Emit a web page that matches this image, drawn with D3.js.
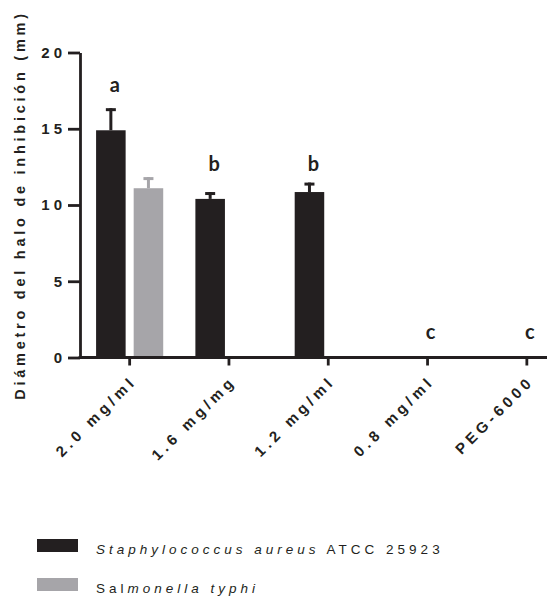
<!DOCTYPE html>
<html>
<head>
<meta charset="utf-8">
<script src="https://cdn.jsdelivr.net/npm/d3@7"></script>
<style>
  html, body { margin: 0; padding: 0; background: #fff; }
  svg { display: block; }
</style>
</head>
<body>
<svg id="chart" width="547" height="597"></svg>
<script>
// ---- data ----
const categories = ["2.0 mg/ml", "1.6 mg/mg", "1.2 mg/ml", "0.8 mg/ml", "PEG-6000"];
const seriesNames = ["Staphylococcus aureus ATCC 25923", "Salmonella typhi"];
const aureusMean = [14.9, 10.4, 10.85, 0, 0];
const aureusSD   = [1.45, 0.45, 0.62, 0, 0];
const typhiMean  = [11.1, 0, 0, 0, 0];
const typhiSD    = [0.73, 0, 0, 0, 0];
const letters    = ["a", "b", "b", "c", "c"];
const letterY    = [17.4, 12.25, 12.25, 1.23, 1.23];
const yTicks     = [0, 5, 10, 15, 20];
const yTitle     = "Diámetro del halo de inhibición (mm)";

// ---- layout ----
const svg = d3.select("#chart");
const ink = "#231f20";
const grey = "#a6a5a9";
const colors = [ink, grey];
const FONT = "'Liberation Sans', Arial, sans-serif";

const x0 = 80, yBottom = 357.5, yTop = 52.5;
const x = d3.scaleBand().domain(categories).range([x0, x0 + 99.3 * categories.length]).padding(0);
const xs = d3.scaleBand().domain([0, 1]).range([0, x.bandwidth()]).paddingInner(0.214).paddingOuter(0.428);
const y = d3.scaleLinear().domain([0, 20]).range([yBottom, yTop]);

const series = [
  { mean: aureusMean, sd: aureusSD },
  { mean: typhiMean, sd: typhiSD }
];

// bars + error bars
series.forEach((s, si) => {
  const g = svg.append("g");
  categories.forEach((c, i) => {
    const v = s.mean[i];
    if (v <= 0) return;
    const bx = x(c) + xs(si);
    const bw = xs.bandwidth();
    const cx = bx + bw / 2;
    g.append("rect")
      .attr("x", bx).attr("y", y(v))
      .attr("width", bw).attr("height", y(0) - y(v))
      .attr("fill", colors[si]);
    const top = y(v + s.sd[i]);
    g.append("line")
      .attr("x1", cx).attr("x2", cx)
      .attr("y1", y(v)).attr("y2", top)
      .attr("stroke", colors[si]).attr("stroke-width", 3);
    g.append("line")
      .attr("x1", cx - 5).attr("x2", cx + 5)
      .attr("y1", top + 1.5).attr("y2", top + 1.5)
      .attr("stroke", colors[si]).attr("stroke-width", 3);
  });
});

// significance letters
categories.forEach((c, i) => {
  const cx = letters[i] === "c" ? x(c) + x.bandwidth() / 2 + 3 : x(c) + xs(0) + xs.bandwidth() / 2 + 4;
  svg.append("text")
    .attr("x", cx).attr("y", y(letterY[i]))
    .attr("text-anchor", "middle")
    .attr("font-family", "Lato, 'Open Sans', sans-serif")
    .attr("font-weight", "bold")
    .attr("font-size", 20)
    .attr("fill", ink)
    .text(letters[i]);
});

// y axis
const LSY = 4;
const yAxis = svg.append("g")
  .attr("transform", `translate(${x0},0)`)
  .call(d3.axisLeft(y).tickValues(yTicks).tickSize(12).tickPadding(5).tickSizeOuter(0));
yAxis.select(".domain").attr("stroke", ink).attr("stroke-width", 2.8);
yAxis.selectAll(".tick line").attr("stroke", ink).attr("stroke-width", 2.8);
yAxis.selectAll(".tick text")
  .attr("font-family", FONT)
  .attr("font-weight", "bold")
  .attr("font-size", 15)
  .attr("fill", ink)
  .attr("dx", LSY - 1)
  .style("letter-spacing", LSY + "px");

// x axis
const LSX = 4.2;
const xAxis = svg.append("g")
  .attr("transform", `translate(0,${yBottom})`)
  .call(d3.axisBottom(x).tickSize(8).tickSizeOuter(0));
xAxis.select(".domain").attr("stroke", ink).attr("stroke-width", 2.8)
  .attr("d", `M${x0 - 1.4},0H${x.range()[1]}`);
xAxis.selectAll(".tick line").attr("stroke", ink).attr("stroke-width", 2.8);
xAxis.selectAll(".tick text")
  .attr("font-family", FONT)
  .attr("font-weight", "bold")
  .attr("font-size", 15)
  .attr("fill", ink)
  .attr("text-anchor", "end")
  .attr("y", 0).attr("dy", 0)
  .attr("transform", `translate(${5 + LSX * 0.707},${385 - yBottom - LSX * 0.707}) rotate(-45)`)
  .style("letter-spacing", LSX + "px");

// y title
svg.append("text")
  .attr("transform", `translate(24.5,205) rotate(-90)`)
  .attr("text-anchor", "middle")
  .attr("font-family", FONT)
  .attr("font-weight", "bold")
  .attr("font-size", 14.5)
  .attr("fill", ink)
  .style("letter-spacing", "3.75px")
  .text(yTitle);

// legend
const legendY = [554, 593];
const legendParts = [
  [{ t: "Staphylococcus aureus", i: true }, { t: " ATCC 25923", i: false }],
  [{ t: "Sal", i: false }, { t: "monella typhi", i: true }]
];
seriesNames.forEach((name, si) => {
  svg.append("rect")
    .attr("x", 37).attr("y", legendY[si] - 15)
    .attr("width", 41).attr("height", 13)
    .attr("fill", colors[si]);
  const t = svg.append("text")
    .attr("x", 96).attr("y", legendY[si])
    .attr("font-family", FONT)
    .attr("font-size", 13.5)
    .attr("fill", ink)
    .style("letter-spacing", "4px");
  legendParts[si].forEach(p => {
    t.append("tspan").attr("font-style", p.i ? "italic" : "normal").text(p.t);
  });
});
</script>
</body>
</html>
